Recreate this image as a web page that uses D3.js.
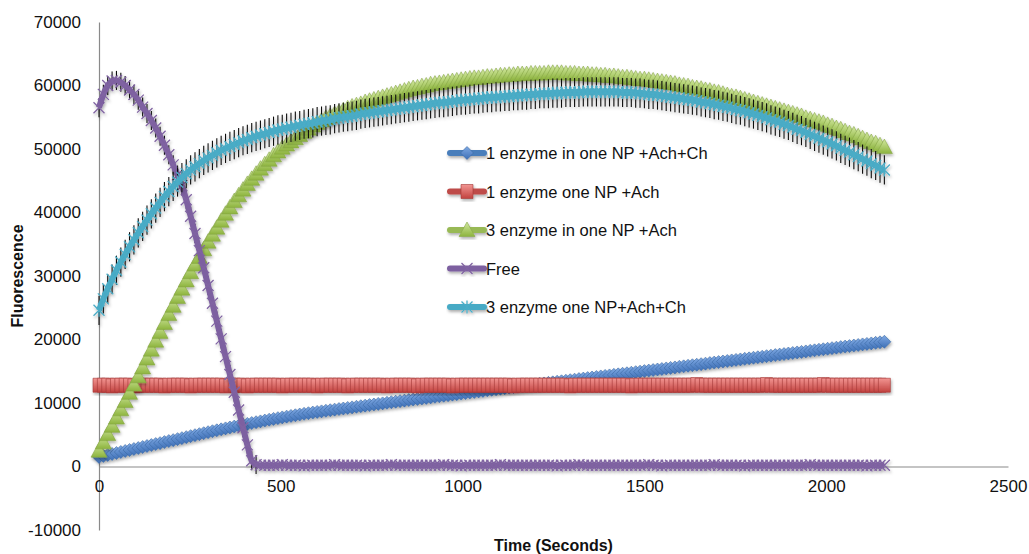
<!DOCTYPE html>
<html lang="en">
<head>
<meta charset="UTF-8">
<title>Fluorescence over time</title>
<script src="https://d3js.org/d3.v7.min.js"></script>
<style>
  body { margin: 0; background: #fff; font-family: "Liberation Sans", Arial, sans-serif; }
  svg { display: block; }
  .axis text { font-size: 17px; fill: #111; font-family: "Liberation Sans", Arial, sans-serif; }
  .axis path { stroke: #8a8a8a; stroke-width: 1.2; }
  .legend text { font-size: 16.5px; fill: #111; }
  .title { font-size: 16px; font-weight: bold; fill: #111; }
</style>
</head>
<body>
<svg id="chart" width="1029" height="554"></svg>
<script>
// readings every 12 s, 0 .. 2160 s
const timeStep = 12;

const seriesNames = [
  "1 enzyme in one NP +Ach+Ch",
  "1 enzyme one NP +Ach",
  "3 enzyme in one NP +Ach",
  "Free",
  "3 enzyme one NP+Ach+Ch"
];

const enzyme1AchCh = [
  1500,1660,1810,1970,2120,2280,2440,2590,2750,2900,
  3060,3220,3370,3530,3680,3840,4000,4150,4310,4460,
  4620,4780,4930,5090,5240,5400,5550,5700,5850,6000,
  6140,6280,6420,6560,6700,6840,6970,7100,7230,7360,
  7490,7610,7730,7850,7960,8070,8180,8290,8390,8490,
  8590,8680,8770,8860,8950,9040,9130,9220,9310,9400,
  9490,9580,9670,9760,9850,9940,10030,10120,10200,10290,
  10370,10460,10540,10630,10710,10800,10880,10970,11050,11140,
  11220,11310,11390,11480,11560,11650,11730,11820,11900,11990,
  12070,12160,12240,12330,12410,12500,12580,12660,12750,12830,
  12920,13000,13080,13170,13250,13340,13420,13500,13590,13670,
  13760,13840,13920,14010,14090,14180,14260,14340,14430,14510,
  14600,14680,14760,14850,14930,15020,15100,15180,15270,15350,
  15440,15520,15600,15690,15770,15860,15940,16020,16110,16190,
  16280,16360,16440,16530,16610,16700,16780,16860,16950,17030,
  17120,17200,17280,17370,17450,17540,17620,17700,17790,17870,
  17960,18040,18120,18210,18290,18380,18460,18540,18630,18710,
  18800,18880,18960,19050,19130,19220,19300,19380,19470,19550,
  19640
];

const enzyme1Ach = [
  12800,12800,12800,12700,12800,12800,12800,12800,12700,12800,
  12800,12800,12800,12800,12800,12700,12800,12800,12800,12800,
  12800,12700,12800,12800,12800,12800,12800,12800,12800,12700,
  12800,12800,12800,12800,12700,12800,12800,12800,12800,12800,
  12800,12800,12700,12800,12800,12800,12800,12800,12800,12800,
  12700,12800,12800,12800,12800,12800,12800,12700,12800,12800,
  12800,12800,12800,12800,12800,12800,12700,12800,12800,12800,
  12800,12800,12800,12700,12800,12800,12800,12800,12800,12800,
  12800,12700,12800,12800,12800,12800,12800,12800,12800,12800,
  12800,12800,12800,12800,12800,12700,12800,12800,12800,12800,
  12800,12800,12800,12800,12800,12800,12800,12800,12700,12800,
  12800,12800,12800,12800,12800,12800,12800,12800,12800,12800,
  12800,12800,12700,12800,12800,12800,12800,12800,12800,12800,
  12800,12800,12800,12800,12800,12800,12800,12900,12800,12800,
  12800,12800,12800,12800,12800,12800,12800,12800,12800,12800,
  12800,12800,12800,12900,12800,12800,12800,12800,12800,12800,
  12800,12800,12800,12800,12800,12800,12900,12800,12800,12800,
  12800,12800,12800,12800,12800,12800,12800,12800,12800,12800,
  12800
];

const enzyme3Ach = [
  2500,3800,5100,6400,7700,9000,10300,11600,12900,14200,
  15600,17000,18400,19800,21200,22600,24000,25300,26700,28000,
  29300,30600,31800,33000,34200,35400,36500,37600,38700,39800,
  40800,41800,42700,43600,44500,45300,46100,46900,47600,48300,
  49000,49600,50200,50700,51200,51700,52200,52700,53200,53700,
  54100,54500,54900,55200,55500,55800,56100,56400,56700,56900,
  57100,57400,57600,57800,58000,58200,58400,58600,58800,59000,
  59200,59400,59600,59700,59900,60000,60200,60300,60400,60500,
  60600,60700,60800,60900,61000,61100,61200,61200,61300,61400,
  61400,61500,61600,61600,61700,61700,61800,61800,61800,61900,
  61900,61900,61900,62000,62000,62000,62000,61900,61900,61900,
  61800,61800,61800,61700,61700,61600,61600,61500,61500,61400,
  61300,61300,61200,61100,61000,61000,60900,60800,60700,60600,
  60500,60400,60300,60100,60000,59900,59700,59600,59500,59300,
  59200,59000,58900,58700,58500,58300,58200,58000,57800,57600,
  57400,57200,57000,56800,56600,56400,56200,56000,55800,55600,
  55400,55200,54900,54700,54500,54300,54100,53800,53600,53300,
  53100,52800,52500,52300,52000,51700,51400,51100,50900,50600,
  50300
];

const free = [
  56500,58600,60000,60700,60800,60500,60000,59300,58600,57700,
  56600,55600,54500,53300,52000,50600,49100,47500,45900,44200,
  42000,39400,36700,34000,31300,28500,25700,22900,20100,17300,
  14500,11700,8900,6100,3400,900,300,200,200,200,
  200,200,300,200,200,200,200,100,200,200,
  200,200,200,200,300,200,200,200,200,200,
  200,100,200,200,200,200,200,300,200,200,
  200,200,200,200,200,200,200,200,200,300,
  200,200,200,100,200,200,200,200,200,200,
  200,200,300,200,200,200,200,200,200,200,
  200,200,200,200,200,100,200,200,200,200,
  300,200,200,200,200,200,200,200,200,200,
  200,200,200,200,200,200,300,200,200,100,
  200,200,200,200,200,200,200,200,200,200,
  200,300,200,200,200,200,200,200,100,200,
  200,200,200,200,200,200,200,200,200,200,
  200,200,200,300,200,200,200,200,200,200,
  200,200,200,200,200,200,100,200,200,200,
  200
];

const enzyme3AchCh = [
  24600,26400,28000,29500,30900,32200,33400,34600,35700,36800,
  37800,38800,39800,40700,41600,42500,43300,44100,44800,45500,
  46100,46700,47200,47700,48200,48600,49000,49400,49800,50100,
  50400,50700,51000,51300,51500,51800,52000,52200,52400,52600,
  52800,53000,53100,53300,53400,53600,53700,53900,54000,54100,
  54300,54400,54500,54600,54800,54900,55000,55100,55200,55300,
  55500,55600,55700,55800,55900,56000,56100,56200,56300,56400,
  56500,56600,56700,56800,56900,57000,57100,57200,57300,57300,
  57400,57500,57600,57700,57700,57800,57900,57900,58000,58100,
  58100,58200,58200,58300,58300,58400,58400,58500,58500,58600,
  58600,58700,58700,58700,58800,58800,58800,58900,58900,58900,
  58900,59000,59000,59000,59000,59000,59000,59000,59000,59000,
  58900,58900,58900,58800,58800,58700,58600,58600,58500,58400,
  58300,58200,58100,58000,57900,57800,57700,57600,57400,57300,
  57200,57000,56900,56700,56600,56400,56200,56100,55900,55700,
  55500,55300,55100,54900,54600,54400,54200,53900,53700,53400,
  53100,52900,52600,52300,52000,51700,51400,51100,50800,50500,
  50100,49800,49500,49100,48800,48400,48100,47700,47400,47000,
  46700
];

// error bar half-widths (only the first points of "Free" show bars)
const freeError = [
  1500,1500,1500,1500,1500,1500,1500,1500,1500,1500,
  1500,1500,1500,1500,1500,1500,1500,1500,1500,1500,
  1500,1500,1500,1500,1500,1500,1500,1500,1500,1500,
  1500,1500,1500,1500,1500,1500,1500
];
const enzyme3AchChError = 2300;

const xTicks = [0, 500, 1000, 1500, 2000, 2500];
const yTicks = [-10000, 0, 10000, 20000, 30000, 40000, 50000, 60000, 70000];

const svg = d3.select("#chart");
const x = d3.scaleLinear().domain([0, 2500]).range([99, 1008]);
const y = d3.scaleLinear().domain([-10000, 70000]).range([530, 22]);

const defs = svg.append("defs");
const shadow = defs.append("filter").attr("id", "shadow")
  .attr("x", "-10%").attr("y", "-10%").attr("width", "120%").attr("height", "130%");
shadow.append("feDropShadow").attr("dx", 1).attr("dy", 2)
  .attr("stdDeviation", 1.4).attr("flood-color", "#000").attr("flood-opacity", 0.32);

function gradient(id, top, bottom) {
  const g = defs.append("linearGradient").attr("id", id)
    .attr("x1", 0).attr("y1", 0).attr("x2", 0).attr("y2", 1);
  g.append("stop").attr("offset", "0%").attr("stop-color", top);
  g.append("stop").attr("offset", "100%").attr("stop-color", bottom);
}
gradient("gBlue", "#7FA9E3", "#3D6FB6");
gradient("gRed", "#F29592", "#C2423F");
gradient("gGreen", "#D2E8A0", "#8DB43E");

const markers = {
  diamond: "M0,-6.5L6.5,0L0,6.5L-6.5,0Z",
  square: "M-6,-7H6V7H-6Z",
  triangle: "M0,-8L8,6.5L-8,6.5Z",
  cross: "M-5.5,-5.5L5.5,5.5M-5.5,5.5L5.5,-5.5",
  star: "M-5.5,-5.5L5.5,5.5M-5.5,5.5L5.5,-5.5M0,-6.5V6.5"
};

const series = [
  { name: seriesNames[0], values: enzyme1AchCh, color: "#4A7EBB", marker: "diamond", fill: "url(#gBlue)", stroke: "#3A68A3" },
  { name: seriesNames[1], values: enzyme1Ach, color: "#BE4B48", marker: "square", fill: "url(#gRed)", stroke: "#A23835" },
  { name: seriesNames[2], values: enzyme3Ach, color: "#98B954", marker: "triangle", fill: "url(#gGreen)", stroke: "#86A646" },
  { name: seriesNames[3], values: free, color: "#7D60A0", marker: "cross", fill: "none", stroke: "#8064A2", err: i => freeError[i] },
  { name: seriesNames[4], values: enzyme3AchCh, color: "#46AAC5", marker: "star", fill: "none", stroke: "#4BACC6", err: () => enzyme3AchChError }
];

// axes
svg.append("g").attr("class", "axis")
  .attr("transform", `translate(${x(0)},0)`)
  .call(d3.axisLeft(y).tickValues(yTicks).tickSize(0).tickPadding(18).tickFormat(d => String(d)));
svg.append("g").attr("class", "axis")
  .attr("transform", `translate(0,${y(0)})`)
  .call(d3.axisBottom(x).tickValues(xTicks).tickSize(0).tickPadding(13).tickFormat(d => String(d)));

svg.append("text").attr("class", "title")
  .attr("x", (x.range()[0] + x.range()[1]) / 2).attr("y", 551)
  .attr("text-anchor", "middle").text("Time (Seconds)");
svg.append("text").attr("class", "title")
  .attr("transform", `translate(23,${(y.range()[0] + y.range()[1]) / 2}) rotate(-90)`)
  .attr("text-anchor", "middle").text("Fluorescence");

const line = d3.line()
  .x(d => x(d.t)).y(d => y(d.v))
  .curve(d3.curveMonotoneX);

series.forEach(s => {
  const pts = s.values.map((v, i) => ({ t: i * timeStep, v, i }));
  const g = svg.append("g").attr("filter", "url(#shadow)");

  if (s.err) {
    g.selectAll("line.err")
      .data(pts.filter(d => s.err(d.i)))
      .join("line")
      .attr("x1", d => x(d.t)).attr("x2", d => x(d.t))
      .attr("y1", d => y(d.v + s.err(d.i))).attr("y2", d => y(d.v - s.err(d.i)))
      .attr("stroke", "#111").attr("stroke-width", 1.1);
  }

  g.append("path")
    .attr("d", line(pts))
    .attr("fill", "none")
    .attr("stroke", s.color)
    .attr("stroke-width", 6)
    .attr("stroke-linejoin", "round");

  g.selectAll("path.mk")
    .data(pts)
    .join("path")
    .attr("class", "mk")
    .attr("transform", d => `translate(${x(d.t)},${y(d.v)})`)
    .attr("d", markers[s.marker])
    .attr("fill", s.fill)
    .attr("stroke", s.stroke)
    .attr("stroke-width", s.fill === "none" ? 1.3 : 0.6);
});

// legend
const legend = svg.append("g").attr("class", "legend")
  .attr("transform", "translate(450,153)");
series.forEach((s, i) => {
  const row = legend.append("g").attr("transform", `translate(0,${i * 38.5})`);
  const sample = row.append("g").attr("filter", "url(#shadow)");
  sample.append("line").attr("x1", 0).attr("x2", 34).attr("y1", 0).attr("y2", 0)
    .attr("stroke", s.color).attr("stroke-width", 6).attr("stroke-linecap", "round");
  sample.append("path").attr("transform", "translate(17,0)")
    .attr("d", markers[s.marker])
    .attr("fill", s.fill).attr("stroke", s.stroke)
    .attr("stroke-width", s.fill === "none" ? 1.3 : 0.6);
  row.append("text").attr("x", 36).attr("y", 6).text(s.name);
});
</script>
</body>
</html>
